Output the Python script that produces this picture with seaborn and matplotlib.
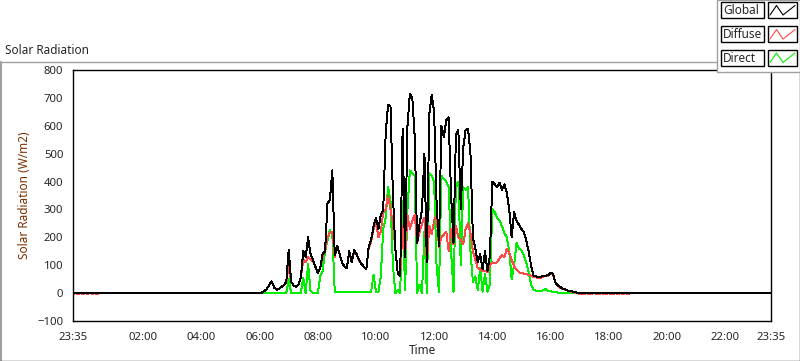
import numpy as np
import pandas as pd
import matplotlib
matplotlib.use("Agg")
import matplotlib.pyplot as plt
from matplotlib.patches import Rectangle
from matplotlib.lines import Line2D
import seaborn as sns

# 5-minute readings, 06:00 .. 17:00 (W/m2)
global_day = [
    0, 2, 8, 15, 30, 42, 20, 12, 15, 22, 28, 40,
    155, 40, 28, 22, 30, 55, 150, 130, 200, 140, 120, 95,
    72, 90, 140, 150, 320, 335, 440, 135, 170, 140, 110, 95,
    90, 150, 110, 155, 140, 120, 105, 95, 85, 165, 190, 240,
    270, 230, 280, 300, 570, 675, 670, 350, 160, 70, 60, 590,
    130, 600, 715, 700, 560, 180, 250, 300, 500, 110, 640, 710,
    650, 330, 170, 600, 560, 620, 630, 350, 180, 570, 585, 300,
    520, 585, 590, 500, 200, 160, 110, 140, 85, 150, 80, 130,
    400, 390, 380, 395, 370, 390, 360, 300, 200, 290, 260, 245,
    230, 220, 190, 150, 100, 62, 60, 58, 58, 62, 62, 64,
    72, 70, 38, 28, 22, 16, 13, 10, 7, 6, 4, 2, 0,
]
diffuse_day = [
    0, 2, 8, 15, 30, 42, 20, 12, 15, 22, 28, 40,
    100, 40, 28, 22, 30, 55, 120, 110, 130, 120, 115, 95,
    72, 90, 130, 150, 200, 215, 220, 130, 165, 140, 110, 95,
    90, 145, 110, 150, 140, 118, 105, 95, 85, 160, 185, 230,
    255, 200, 220, 290, 300, 350, 300, 250, 160, 70, 60, 240,
    130, 280, 230, 260, 280, 180, 220, 250, 270, 110, 240, 210,
    260, 280, 165, 200, 210, 220, 150, 230, 175, 240, 200, 190,
    175, 230, 250, 215, 150, 120, 90, 85, 78, 80, 75, 100,
    110, 108, 110, 125, 135, 130, 160, 145, 120, 95, 85, 75,
    72, 70, 68, 65, 62, 57, 56, 55, 55, 60, 62, 63,
    70, 68, 38, 28, 20, 15, 12, 9, 6, 4, 2, 0, -2,
]
direct_day = [
    0, 0, 0, 0, 0, 0, 0, 0, 0, 0, 0, 0,
    50, 0, 0, 0, 0, 0, 55, 0, 105, 10, 0, 0,
    0, 60, 80, 150, 190, 225, 210, 5, 3, 3, 3, 3,
    4, 3, 3, 4, 3, 3, 4, 3, 3, 3, 5, 65,
    5, 3, 60, 230, 270, 380, 330, 100, 0, 10, 0, 330,
    10, 300, 440, 430, 420, 0, 30, 0, 220, 0, 430, 420,
    400, 100, 5, 420, 410, 400, 380, 150, 5, 390, 400, 100,
    380, 370, 380, 150, 40, 60, 10, 90, 5, 70, 5, 30,
    300, 290, 270, 260, 240, 215, 200, 150, 50, 100, 180, 160,
    155, 135, 110, 75, 30, 12, 8, 7, 8, 10, 14, 8,
    7, 5, 3, 2, 2, 1, 1, 1, 0, 0, 0, 0, 0,
]
# diffuse sensor offset at night (23:35-00:30 and 17:05-18:40)
diffuse_dawn = [-3, 0, -3, 0, -3, 0, -3, 0, -3, 0, -3, 0]
diffuse_evening = [-2, -3, 0, -3, -3, 0, -3, -3, 0, -3,
                   -3, 0, -3, -3, 0, -3, 0, -3, 0, -3]

tick_labels = ["23:35", "02:00", "04:00", "06:00", "08:00", "10:00", "12:00",
               "14:00", "16:00", "18:00", "20:00", "22:00", "23:35"]
tick_minutes = [0, 145, 265, 385, 505, 625, 745, 865, 985, 1105, 1225, 1345, 1440]

# minutes since 23:35, every 5 min for 24 h
minutes = np.arange(0, 1441, 5)
i06 = 385 // 5
glob = np.zeros(len(minutes))
diff = np.zeros(len(minutes))
dirc = np.zeros(len(minutes))
glob[i06:i06 + len(global_day)] = global_day
diff[i06:i06 + len(diffuse_day)] = diffuse_day
dirc[i06:i06 + len(direct_day)] = direct_day
diff[:len(diffuse_dawn)] = diffuse_dawn
j = i06 + len(diffuse_day)
diff[j:j + len(diffuse_evening)] = diffuse_evening

df = pd.concat([
    pd.DataFrame({"t": minutes, "val": dirc, "series": "Direct"}),
    pd.DataFrame({"t": minutes, "val": diff, "series": "Diffuse"}),
    pd.DataFrame({"t": minutes, "val": glob, "series": "Global"}),
])

sns.set_style("white")
plt.rcParams["font.family"] = ["Noto Sans", "DejaVu Sans"]

colors = {"Global": "#000000", "Diffuse": "#ff4848", "Direct": "#00ee00"}

fig = plt.figure(figsize=(8, 3.61), dpi=100)
ax = fig.add_axes([73 / 800, 1 - 321 / 361, (771 - 73) / 800, (321 - 70) / 361])

sns.lineplot(data=df, x="t", y="val", hue="series",
             hue_order=["Direct", "Diffuse", "Global"], palette=colors,
             estimator=None, legend=False, lw=0.7, ax=ax)
for ln in ax.lines:
    ln.set_antialiased(False)

ax.set_xlim(0, 1440)
ax.set_ylim(-100, 800)
ax.set_yticks(range(-100, 801, 100))
ax.set_xticks(tick_minutes)
ax.set_xticklabels(tick_labels)
ax.set_xticks([m for m in range(10, 1440, 15)], minor=True)
ax.tick_params(axis="both", which="both", direction="out", color="black",
               labelsize=8.2, width=1)
ax.tick_params(axis="y", length=5, pad=2)
ax.tick_params(axis="x", which="major", length=5, pad=3)
ax.tick_params(axis="x", which="minor", length=4)
for s in ax.spines.values():
    s.set_color("black")
    s.set_linewidth(1.0)
ax.set_xlabel("Time", fontsize=8.5, labelpad=1)
ax.set_ylabel("Solar Radiation (W/m2)", fontsize=8.5, color="#7a3000")
ax.yaxis.set_label_coords(-0.06, 0.5)

# outer panel frame
fy = lambda y: 1 - y / 361
fx = lambda x: x / 800
fig.add_artist(Line2D([fx(0.5), fx(717)], [fy(62), fy(62)], transform=fig.transFigure,
                      color="#a0a0a0", lw=1))
fig.add_artist(Line2D([fx(0.5), fx(0.5)], [fy(62), fy(361)], transform=fig.transFigure,
                      color="#a0a0a0", lw=1.5))
fig.add_artist(Line2D([0, 1], [fy(360.5), fy(360.5)], transform=fig.transFigure,
                      color="#404040", lw=1))
fig.add_artist(Line2D([fx(799.5), fx(799.5)], [fy(72), fy(361)], transform=fig.transFigure,
                      color="#404040", lw=1))
fig.text(fx(5), fy(50), "Solar Radiation", fontsize=8.5, va="center", ha="left")

# legend panel
fig.add_artist(Rectangle((fx(717), fy(72)), fx(83), 72 / 361, transform=fig.transFigure,
                         facecolor="white", edgecolor="#a0a0a0", lw=1, zorder=5))
rows = [("Global", 2.5), ("Diffuse", 26.5), ("Direct", 50)]
for name, top in rows:
    h = 15.5
    fig.add_artist(Rectangle((fx(721), fy(top + h)), fx(42.5), h / 361,
                             transform=fig.transFigure, facecolor="white",
                             edgecolor="black", lw=1, zorder=6))
    fig.add_artist(Rectangle((fx(768), fy(top + h)), fx(29), h / 361,
                             transform=fig.transFigure, facecolor="white",
                             edgecolor="black", lw=1, zorder=6))
    xs = [fx(770), fx(776.5), fx(783), fx(795)]
    ys = [fy(top + h - 3), fy(top + 3), fy(top + h - 3), fy(top + 3)]
    fig.add_artist(Line2D(xs, ys, transform=fig.transFigure, color=colors[name],
                          lw=0.8, zorder=7))
    fig.text(fx(723), fy(top + h / 2 + 0.5), name, fontsize=8.5, va="center",
             ha="left", zorder=8)

fig.savefig("out.png", dpi=100)
